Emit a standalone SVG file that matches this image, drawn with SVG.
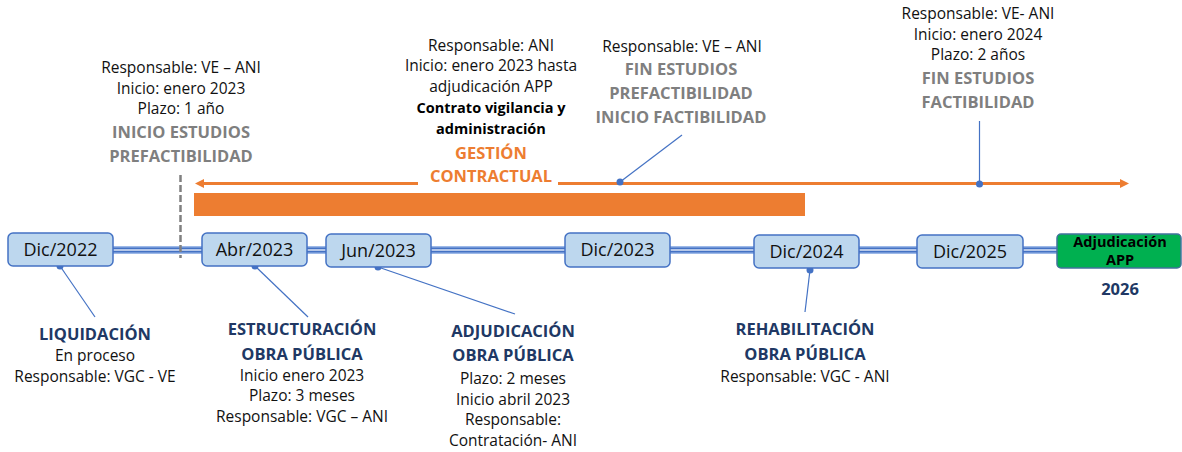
<svg xmlns="http://www.w3.org/2000/svg" width="1182" height="452" viewBox="0 0 1182 452">
<defs>
<marker id="arr" viewBox="0 0 10 10" refX="0" refY="5" markerWidth="10" markerHeight="9" markerUnits="userSpaceOnUse" orient="auto"><path d="M0,0 L10,5 L0,10 z" fill="#ED7D31"/></marker>
</defs>
<style>
text{font-family:"Open Sans","Liberation Sans",sans-serif;text-anchor:middle}
.r{font-size:15.5px;fill:#111}
.g{font-size:16.5px;font-weight:bold;fill:#7F7F7F}
.o{font-size:16.5px;font-weight:bold;fill:#ED7D31}
.k{font-size:14.5px;font-weight:bold;fill:#000}
.b{font-size:16.5px;font-weight:bold;fill:#203864}
.box{fill:#BDD7EE;stroke:#4472C4;stroke-width:1.5}
.bl{font-size:18px;fill:#111}
.pin{stroke:#4472C4;stroke-width:1.2;fill:none}
.dot{fill:#4472C4}
.l1{stroke:#9DB9E8;stroke-width:8;fill:none}
.l2{stroke:#4472C4;stroke-width:5;fill:none}
.l3{stroke:#DAE3F3;stroke-width:1.5;fill:none}
.ol{stroke:#ED7D31;stroke-width:3;fill:none}
</style>

<g id="connectors">
  <path class="l1" d="M113,250 H202 M307,250 H326 M431,250 H565 M670,250 H754 M859,250 H917 M1023,250 H1057"/>
  <path class="l2" d="M113,250 H202 M307,250 H326 M431,250 H565 M670,250 H754 M859,250 H917 M1023,250 H1057"/>
  <path class="l3" d="M113,250 H202 M307,250 H326 M431,250 H565 M670,250 H754 M859,250 H917 M1023,250 H1057"/>
  <line x1="180.5" y1="175" x2="180.5" y2="258" stroke="#808080" stroke-width="2.5" stroke-dasharray="7 3"/>
  <path class="ol" d="M418,183.5 H204" marker-end="url(#arr)"/>
  <path class="ol" d="M558,183.5 H1120" marker-end="url(#arr)"/>
  <rect x="194" y="193" width="611" height="23" fill="#ED7D31"/>
  <path class="pin" d="M620,182 L682,135"/>
  <circle class="dot" cx="620" cy="182" r="3.5"/>
  <path class="pin" d="M979.5,184 V121"/>
  <circle class="dot" cx="979.5" cy="184" r="3.5"/>
  <path class="pin" d="M60,266 L95,317"/>
  <circle class="dot" cx="60" cy="266" r="3.5"/>
  <path class="pin" d="M255,266 L308,317"/>
  <circle class="dot" cx="255" cy="266" r="3.5"/>
  <path class="pin" d="M378,267 L515,314"/>
  <circle class="dot" cx="378" cy="267" r="3.5"/>
  <path class="pin" d="M810,270 L805,312"/>
  <circle class="dot" cx="810" cy="270" r="3.5"/>
</g>

<g id="dic2022"><rect class="box" x="8" y="233" width="105" height="33" rx="5"/><text class="bl" x="60.5" y="256">Dic/2022</text></g>
<g id="abr2023"><rect class="box" x="202" y="233" width="105" height="33" rx="5"/><text class="bl" x="254.5" y="256">Abr/2023</text></g>
<g id="jun2023"><rect class="box" x="326" y="234" width="105" height="33" rx="5"/><text class="bl" x="378.5" y="257">Jun/2023</text></g>
<g id="dic2023"><rect class="box" x="565" y="233" width="105" height="34" rx="5"/><text class="bl" x="617.5" y="256">Dic/2023</text></g>
<g id="dic2024"><rect class="box" x="754" y="235" width="105" height="33" rx="5"/><text class="bl" x="806.5" y="258">Dic/2024</text></g>
<g id="dic2025"><rect class="box" x="917" y="235" width="106" height="33" rx="5"/><text class="bl" x="970" y="258">Dic/2025</text></g>
<g id="adjapp"><rect x="1057" y="234" width="124" height="34" rx="4" fill="#00B050" stroke="#41719C" stroke-width="1.5"/><text class="k" x="1120" y="247">Adjudicación</text><text class="k" x="1120" y="265">APP</text></g>
<g id="y2026"><text class="b" x="1120" y="295">2026</text></g>

<g id="inicio-prefact">
  <text class="r" x="181" y="73">Responsable: VE – ANI</text>
  <text class="r" x="181" y="94">Inicio: enero 2023</text>
  <text class="r" x="181" y="114">Plazo: 1 año</text>
  <text class="g" x="181" y="138">INICIO ESTUDIOS</text>
  <text class="g" x="181" y="162">PREFACTIBILIDAD</text>
</g>
<g id="gestion">
  <text class="r" x="491" y="51">Responsable: ANI</text>
  <text class="r" x="491" y="71">Inicio: enero 2023 hasta</text>
  <text class="r" x="491" y="92">adjudicación APP</text>
  <text class="k" x="491" y="113">Contrato vigilancia y</text>
  <text class="k" x="491" y="134">administración</text>
  <text class="o" x="491" y="159">GESTIÓN</text>
  <text class="o" x="491" y="182">CONTRACTUAL</text>
</g>
<g id="fin-prefact">
  <text class="r" x="682" y="52">Responsable: VE – ANI</text>
  <text class="g" x="681" y="75">FIN ESTUDIOS</text>
  <text class="g" x="681" y="99">PREFACTIBILIDAD</text>
  <text class="g" x="681" y="123">INICIO FACTIBILIDAD</text>
</g>
<g id="fin-fact">
  <text class="r" x="978" y="19">Responsable: VE- ANI</text>
  <text class="r" x="978" y="40">Inicio: enero 2024</text>
  <text class="r" x="978" y="60">Plazo: 2 años</text>
  <text class="g" x="978" y="84">FIN ESTUDIOS</text>
  <text class="g" x="978" y="108">FACTIBILIDAD</text>
</g>
<g id="liquidacion">
  <text class="b" x="95" y="340">LIQUIDACIÓN</text>
  <text class="r" x="95" y="361">En proceso</text>
  <text class="r" x="95" y="382">Responsable: VGC - VE</text>
</g>
<g id="estructuracion">
  <text class="b" x="302" y="335">ESTRUCTURACIÓN</text>
  <text class="b" x="302" y="360">OBRA PÚBLICA</text>
  <text class="r" x="302" y="381">Inicio enero 2023</text>
  <text class="r" x="302" y="401">Plazo: 3 meses</text>
  <text class="r" x="302" y="422">Responsable: VGC – ANI</text>
</g>
<g id="adjudicacion">
  <text class="b" x="513" y="337">ADJUDICACIÓN</text>
  <text class="b" x="513" y="361">OBRA PÚBLICA</text>
  <text class="r" x="513" y="384">Plazo: 2 meses</text>
  <text class="r" x="513" y="405">Inicio abril 2023</text>
  <text class="r" x="513" y="425">Responsable:</text>
  <text class="r" x="513" y="446">Contratación- ANI</text>
</g>
<g id="rehabilitacion">
  <text class="b" x="805" y="335">REHABILITACIÓN</text>
  <text class="b" x="805" y="360">OBRA PÚBLICA</text>
  <text class="r" x="805" y="382">Responsable: VGC - ANI</text>
</g>
</svg>
